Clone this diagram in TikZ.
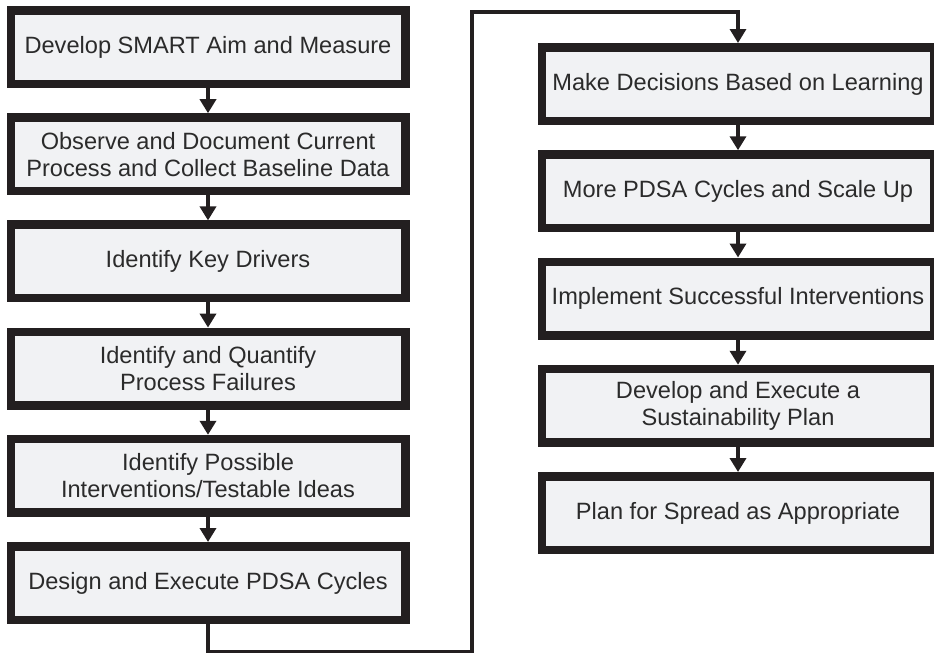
\documentclass[tikz,border=0pt]{standalone}
\usepackage{fontspec}
\setmainfont{Liberation Sans}
\usetikzlibrary{arrows.meta}

\definecolor{boxline}{HTML}{231F20}
\definecolor{boxfill}{HTML}{F1F2F4}
\definecolor{textcol}{HTML}{2B2B2B}

\tikzset{
  stepbox/.style={draw=boxline, line width=8.5pt, fill=boxfill,
    minimum width=394.5pt, minimum height=73.5pt, inner sep=0pt,
    outer sep=4.25pt, text=textcol, align=center,
    font=\fontsize{23.6}{27}\selectfont},
  rightbox/.style={stepbox, minimum width=392pt},
  flow/.style={draw=boxline, line width=4.5pt,
    -{Triangle[width=16pt,length=14pt]}},
  loopline/.style={draw=boxline, line width=3.2pt, line join=miter,
    -{Triangle[width=16pt,length=14pt]}}
}

\begin{document}
\begin{tikzpicture}[x=1pt, y=-1pt]
\useasboundingbox (0,0) rectangle (934,654);

% left column
\node[stepbox] (b1) at (208,47)    {Develop SMART Aim and Measure};
\node[stepbox] (b2) at (208,154.2) {Observe and Document Current\\Process and Collect Baseline Data};
\node[stepbox] (b3) at (208,261.4) {Identify Key Drivers};
\node[stepbox] (b4) at (208,368.6) {Identify and Quantify\\Process Failures};
\node[stepbox] (b5) at (208,475.8) {Identify Possible\\Interventions/Testable Ideas};
\node[stepbox] (b6) at (208,583)   {Design and Execute PDSA Cycles};

% right column
\node[rightbox] (b7)  at (738,84)     {Make Decisions Based on Learning};
\node[rightbox] (b8)  at (738,191.25) {More PDSA Cycles and Scale Up};
\node[rightbox] (b9)  at (738,298.5)  {Implement Successful Interventions};
\node[rightbox] (b10) at (738,405.75) {Develop and Execute a\\Sustainability Plan};
\node[rightbox] (b11) at (738,513)    {Plan for Spread as Appropriate};

% arrows within the columns
\draw[flow] (b1) -- (b2);
\draw[flow] (b2) -- (b3);
\draw[flow] (b3) -- (b4);
\draw[flow] (b4) -- (b5);
\draw[flow] (b5) -- (b6);
\draw[flow] (b7) -- (b8);
\draw[flow] (b8) -- (b9);
\draw[flow] (b9) -- (b10);
\draw[flow] (b10) -- (b11);

% link from the bottom of the left column to the top of the right one
\coordinate (lowturn)  at (208,651.5);
\coordinate (lowright) at (472,651.5);
\coordinate (highleft) at (472,12);
\coordinate (highright) at (738,12);
\draw[loopline] (b6.south) -- (lowturn) -- (lowright) -- (highleft)
  -- (highright) -- (b7.north);
\end{tikzpicture}
\end{document}
